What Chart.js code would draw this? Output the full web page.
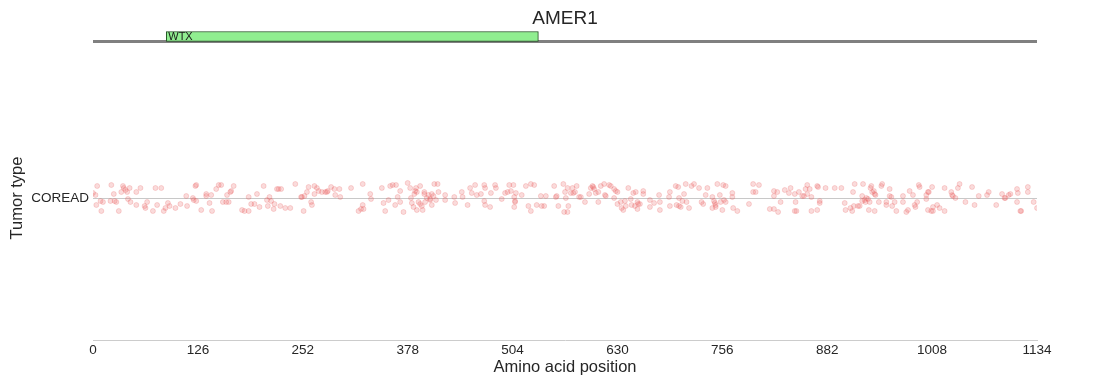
<!DOCTYPE html>
<html>
<head>
<meta charset="utf-8">
<script src="https://cdn.jsdelivr.net/npm/chart.js@4.4.1/dist/chart.umd.min.js"></script>
<style>
  html, body { margin: 0; padding: 0; background: #ffffff; }
</style>
</head>
<body>
<canvas id="canvas" width="1110" height="385"></canvas>
<script>
// gene / axis setup
const gene = 'AMER1';
const tumorTypes = ['COREAD'];
const proteinLength = 1134;
const xTicks = [0, 126, 252, 378, 504, 630, 756, 882, 1008, 1134];

// protein domains
const domainNames = ['WTX'];
const domainStart = [88];
const domainEnd = [535];

// mutation positions (amino acid) and their vertical jitter (px, + is up)
const positions = [
  0, 3, 5, 4, 9, 10, 12, 22, 21, 25, 26, 28, 31, 34, 36, 37, 39, 41, 42, 44,
  45, 52, 52, 57, 62, 63, 65, 72, 75, 77, 82, 85, 87, 90, 92, 99, 105, 112, 113, 120,
  121, 123, 124, 124, 130, 136, 136, 140, 143, 142, 148, 151, 154, 156, 160, 161,
  163, 165, 166, 169, 179, 182, 187, 187, 190, 194, 197, 200, 205, 209, 210, 212, 214, 217, 218, 221,
  223, 226, 225, 231, 237, 243, 250, 251, 253, 254, 257, 259, 262, 263, 266, 266, 269, 271, 275, 279,
  281, 282, 286, 290, 291, 296, 297, 310, 319, 322, 324, 325, 324,
  333, 334, 347, 349, 351, 355, 357, 360, 364, 363, 366, 369, 369, 373, 378, 381, 382, 383, 385, 386,
  387, 388, 389, 389, 391, 393, 393, 395, 396, 398, 398, 399, 401, 403, 405, 405, 407, 407, 409, 410,
  412, 414, 415, 423, 423, 434, 435, 443, 444, 450, 453, 455, 459, 461, 466, 470, 471, 470, 471, 477,
  478, 483, 484, 491,
  495, 498, 500, 502, 505, 506, 507, 507, 506, 508, 515, 520, 523, 526, 526, 530, 533, 538, 539, 542,
  544, 554, 556, 557, 559, 565, 566, 567, 568, 570, 570, 571, 574, 576, 577, 579, 581, 584, 586, 591,
  596, 598, 600, 601, 602, 604, 607, 607, 610, 614, 615, 616, 620, 622, 626, 628, 630, 626, 630, 634,
  635, 637, 639, 640, 643, 646, 647, 649, 651, 652, 654, 654,
  655, 657, 661, 661, 669, 669, 674, 680, 681, 681, 692, 693, 693, 700, 703, 704, 701, 704, 706, 708,
  710, 712, 713, 716, 719, 722, 728, 731, 733, 736, 738, 744, 744, 746, 747, 748, 748, 750, 753, 754,
  756, 757, 758, 760, 760, 768, 768, 769, 774, 788, 793, 793, 796, 800, 813, 818, 818, 818,
  822, 823, 826, 831, 836, 838, 843, 844, 843, 845, 848, 852, 854, 856, 858, 858, 861, 863, 863, 870,
  871, 870, 873, 873, 880, 891, 899, 903, 904, 910, 912, 913, 915, 914, 919, 921, 924, 925, 924, 927,
  928, 929, 931, 933, 932, 934, 935, 936, 938, 939, 940, 939, 944, 947, 948, 953, 953, 957, 957, 959,
  960, 963, 965, 973, 973, 977, 979, 981,
  985, 987, 988, 990, 992, 993, 1001, 1001, 1003, 1004, 1003, 1007, 1008, 1009, 1009, 1014, 1017, 1023, 1023, 1031,
  1032, 1033, 1036, 1039, 1041, 1048, 1056, 1059, 1064, 1074, 1076, 1085, 1092, 1095, 1096, 1100, 1102, 1110, 1111, 1110,
  1114, 1115, 1123, 1123, 1130, 1134
];
const jitter = [
  5, 3, 12, -7, -3, -13, -4, 13, -3, 4, -3, -4, -13, 6, 12, 10, 8, 6, -1, 10,
  -4, 6, -7, 10, -8, -10, -4, -13, 10, -7, 10, -13, -10, -5, -8, -10, -6, 2, -8, 0,
  -2, 12, 13, -3, -12, 4, 2, -5, -13, 3, 9, 13, 13, -4, -4, 3,
  -4, 6, 7, 12, -12, -13, -13, 1, -6, -6, 4, -9, 12, -2, -8, 1, -3, -11, -6, 9,
  9, 9, -8, -10, -10, 14, 1, 1, -13, 2, 6, 11, -4, -7, 12, 4, 10, 7, 6, 6,
  6, 7, 11, 9, 3, 9, 1, 10, -13, -11, -7, -11, 14,
  4, -1, 10, -5, -13, -2, 12, 13, 13, -7, 1, -4, 7, -14, 15, 10, 0, -5, -9, 4,
  7, 10, 6, -12, -4, 12, -6, -8, -12, 6, 4, -4, 0, 3, -1, -2, 4, -7, 2, 14,
  -2, 14, 6, 3, -2, 1, -5, 6, 1, -7, 10, 5, 13, 3, 4, 13, 10, -3, -7, -9,
  5, 13, 10, -1,
  5, 6, 13, 7, 13, 1, -3, -4, -9, 5, 3, 12, -8, 14, -13, 13, -7, 2, -8, -8,
  2, 12, 1, 2, -8, 14, -14, 6, 0, 10, -14, -8, 5, 10, 5, 6, 12, 1, 1, -4,
  4, 10, 12, 11, 9, 5, 6, -4, 12, 14, 3, 2, 13, 12, 9, 7, 6, 0, -6, -4,
  -10, -12, -3, -8, 10, -1, -7, 5, -8, 6, -4, -11,
  -6, -6, 7, 4, -2, -9, -5, 3, -4, -12, 1, 6, -8, 12, 11, 0, -7, -8, -9, -3,
  4, 14, -4, -10, 12, 14, 10, -4, -6, 3, 10, 1, -10, -3, -5, -7, -9, 14, 3, -4,
  -12, 13, -2, 12, -4, 5, 1, -10, -13, -6, 14, 6, 6, 13, -11, 7, 2, -11,
  6, -14, -4, 8, 5, 10, 4, -4, -13, -13, 6, 2, 2, 9, 13, 4, 9, 1, -13, 12,
  11, -12, -3, -5, 10, 10, 10, -5, -12, -10, -13, 6, 14, -8, -8, -8, 2, 14, -3, -2,
  -4, 0, -1, -4, -12, 10, 12, 6, 7, 4, 3, -13, -4, 12, 14, -4, -7, 9, 2, 1,
  -8, -4, -13, 2, -4, -14, -12, 7,
  3, -7, -9, -4, 13, 11, 3, -1, 6, 6, -12, -13, 11, -9, -13, -7, -10, 10, -13, 6,
  3, 2, 0, 10, 14, -4, 11, -7, 2, 3, 6, -7, 4, 0, 0, 3, 4, 9, 5, -4,
  -13, -13, 11, 6, -4, -10
];

// vertical placement of the domain track above the strip (same px units as jitter)
const trackY = 156.5;
const domainY = 161.5;

Chart.defaults.font.family = "'Liberation Sans', Arial, sans-serif";
Chart.defaults.color = '#262626';

// writes the domain name inside its box
const domainLabels = {
    id: 'domainLabels',
    afterDatasetsDraw(chart) {
        const ctx = chart.ctx;
        const xs = chart.scales.x, ys = chart.scales.y;
        ctx.save();
        ctx.font = "11px 'Liberation Sans', Arial, sans-serif";
        ctx.fillStyle = '#1a1a1a';
        ctx.textBaseline = 'middle';
        domainNames.forEach((name, i) => {
            ctx.fillText(name, xs.getPixelForValue(domainStart[i]) + 2, ys.getPixelForValue(domainY));
        });
        ctx.restore();
    }
};

new Chart(document.getElementById('canvas').getContext('2d'), {
    type: 'scatter',
    data: {
        datasets: [
            {
                label: 'mutations',
                data: positions.map((p, i) => ({x: p, y: jitter[i]})),
                pointRadius: 2.5,
                backgroundColor: 'rgba(230, 90, 90, 0.22)',
                borderColor: 'rgba(230, 90, 90, 0.28)',
                borderWidth: 0.8,
                order: 1
            },
            {
                type: 'bar',
                label: 'domains',
                indexAxis: 'y',
                data: domainStart.map((s, i) => ({x: [s, domainEnd[i]], y: domainY})),
                backgroundColor: '#90ee90',
                borderColor: '#1f4f1f',
                borderWidth: 1,
                borderSkipped: false,
                barThickness: 10,
                grouped: false,
                clip: false,
                order: 2
            },
            {
                label: 'protein',
                data: [{x: 0, y: trackY}, {x: proteinLength, y: trackY}],
                showLine: true,
                borderColor: '#808080',
                borderWidth: 3,
                pointRadius: 0,
                clip: false,
                order: 3
            }
        ]
    },
    options: {
        responsive: false,
        animation: false,
        events: [],
        layout: {padding: {left: 0, right: 73, top: 0, bottom: 0}},
        plugins: {
            legend: {display: false},
            tooltip: {enabled: false},
            title: {
                display: true,
                text: gene,
                fullSize: false,
                color: '#262626',
                font: {size: 19, weight: 'normal'},
                padding: {top: 7.6, bottom: 25.6}
            }
        },
        scales: {
            x: {
                type: 'linear',
                min: 0,
                max: proteinLength,
                afterBuildTicks: s => { s.ticks = xTicks.map(v => ({value: v})); },
                ticks: {autoSkip: false, maxRotation: 0, padding: 2, font: {size: 13.5}, callback: v => String(v)},
                grid: {display: false, drawTicks: false},
                border: {display: true, color: '#cccccc', width: 1},
                title: {display: true, text: 'Amino acid position', font: {size: 16.5}, padding: {top: 0, bottom: 8}},
                afterFit: s => { s.height = 45; }
            },
            y: {
                type: 'linear',
                min: -142,
                max: 142,
                offset: false,
                afterBuildTicks: s => { s.ticks = tumorTypes.map(() => ({value: 0})); },
                ticks: {padding: 4, font: {size: 13.5}, callback: (v, i) => tumorTypes[i]},
                grid: {color: '#c8c8c8', lineWidth: 1, drawTicks: false, offset: false},
                border: {display: false},
                title: {display: true, text: 'Tumor type', font: {size: 16.5}, padding: {top: 8, bottom: 0}},
                afterFit: s => { s.width = 93; }
            }
        }
    },
    plugins: [domainLabels]
});
</script>
</body>
</html>
